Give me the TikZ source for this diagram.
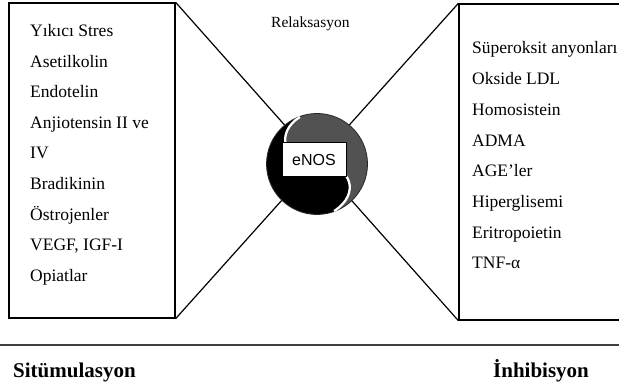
\documentclass[tikz,border=0pt]{standalone}
\usepackage{fontspec}
\setmainfont{Liberation Serif}
\newfontfamily\labelsans{Liberation Sans}
\begin{document}
\begin{tikzpicture}[x=1pt,y=-1pt,
  panel/.style={draw=black, line width=1.3pt, rectangle, inner sep=0pt},
  item/.style={anchor=base west, inner sep=0pt, font=\fontsize{17.5}{20}\selectfont},
  caption/.style={anchor=base west, inner sep=0pt, font=\fontsize{21}{24}\selectfont\bfseries},
  link/.style={line width=1.2pt, black}]
\useasboundingbox (0,0) rectangle (619,385);
\clip (0,0) rectangle (619,385);
\fill[white] (0,0) rectangle (619,385);

% the two panels
\node[panel, minimum width=166pt, minimum height=315pt] (lbox) at (92,160.5) {};
\node[panel, minimum width=171pt, minimum height=316pt] (rbox) at (544.5,162) {};

% crossing connectors behind the enzyme
\draw[link] (lbox.north east) -- (rbox.south west);
\draw[link] (lbox.south east) -- (rbox.north west);

% eNOS disc: grey field with a black S-shaped half
\node[circle, minimum size=101pt, inner sep=0pt, fill=black!68, draw=black!85, line width=0.8pt] (enos) at (317,164) {};
\begin{scope}[shift={(enos.center)}, yscale=-1]
  \fill[black] (-17.1,47) arc[start angle=110, end angle=290, radius=50]
    .. controls (44,-30) and (35,0) .. (0,0)
    .. controls (-35,0) and (-42,32) .. (-17.1,47) -- cycle;
  \draw[white, line width=2.3pt] (17.1,-47) .. controls (44,-30) and (35,0) .. (0,0)
    .. controls (-35,0) and (-42,32) .. (-17.1,47);
\end{scope}
\node[draw=black, line width=1pt, fill=white, minimum width=64pt, minimum height=34pt,
      inner sep=0pt, font=\labelsans\fontsize{16}{18}\selectfont] (enoslabel) at (314,160) {eNOS};

\node[anchor=base west, inner sep=0pt, font=\fontsize{15.5}{18}\selectfont] (relax) at (271,28) {Relaksasyon};

% stimulators
\foreach \t [count=\i from 0] in {Yıkıcı Stres,Asetilkolin,Endotelin,Anjiotensin II ve,IV,Bradikinin,Östrojenler,{VEGF, IGF-I},Opiatlar}
  \node[item] (l\i) at (30,37+30.5*\i) {\t};

% inhibitors
\foreach \t [count=\i from 0] in {Süperoksit anyonları,Okside LDL,Homosistein,ADMA,AGE’ler,Hiperglisemi,Eritropoietin,TNF-α}
  \node[item] (r\i) at (472,54+30.7*\i) {\t};

% baseline rule and captions
\coordinate (rl) at (0,345);
\coordinate (rr) at (619,345);
\draw[line width=1.3pt, black!75] (rl) -- (rr);
\node[caption] (stim) at (13,377) {Sitümulasyon};
\node[caption] (inh) at (493,377) {İnhibisyon};
\end{tikzpicture}
\end{document}
